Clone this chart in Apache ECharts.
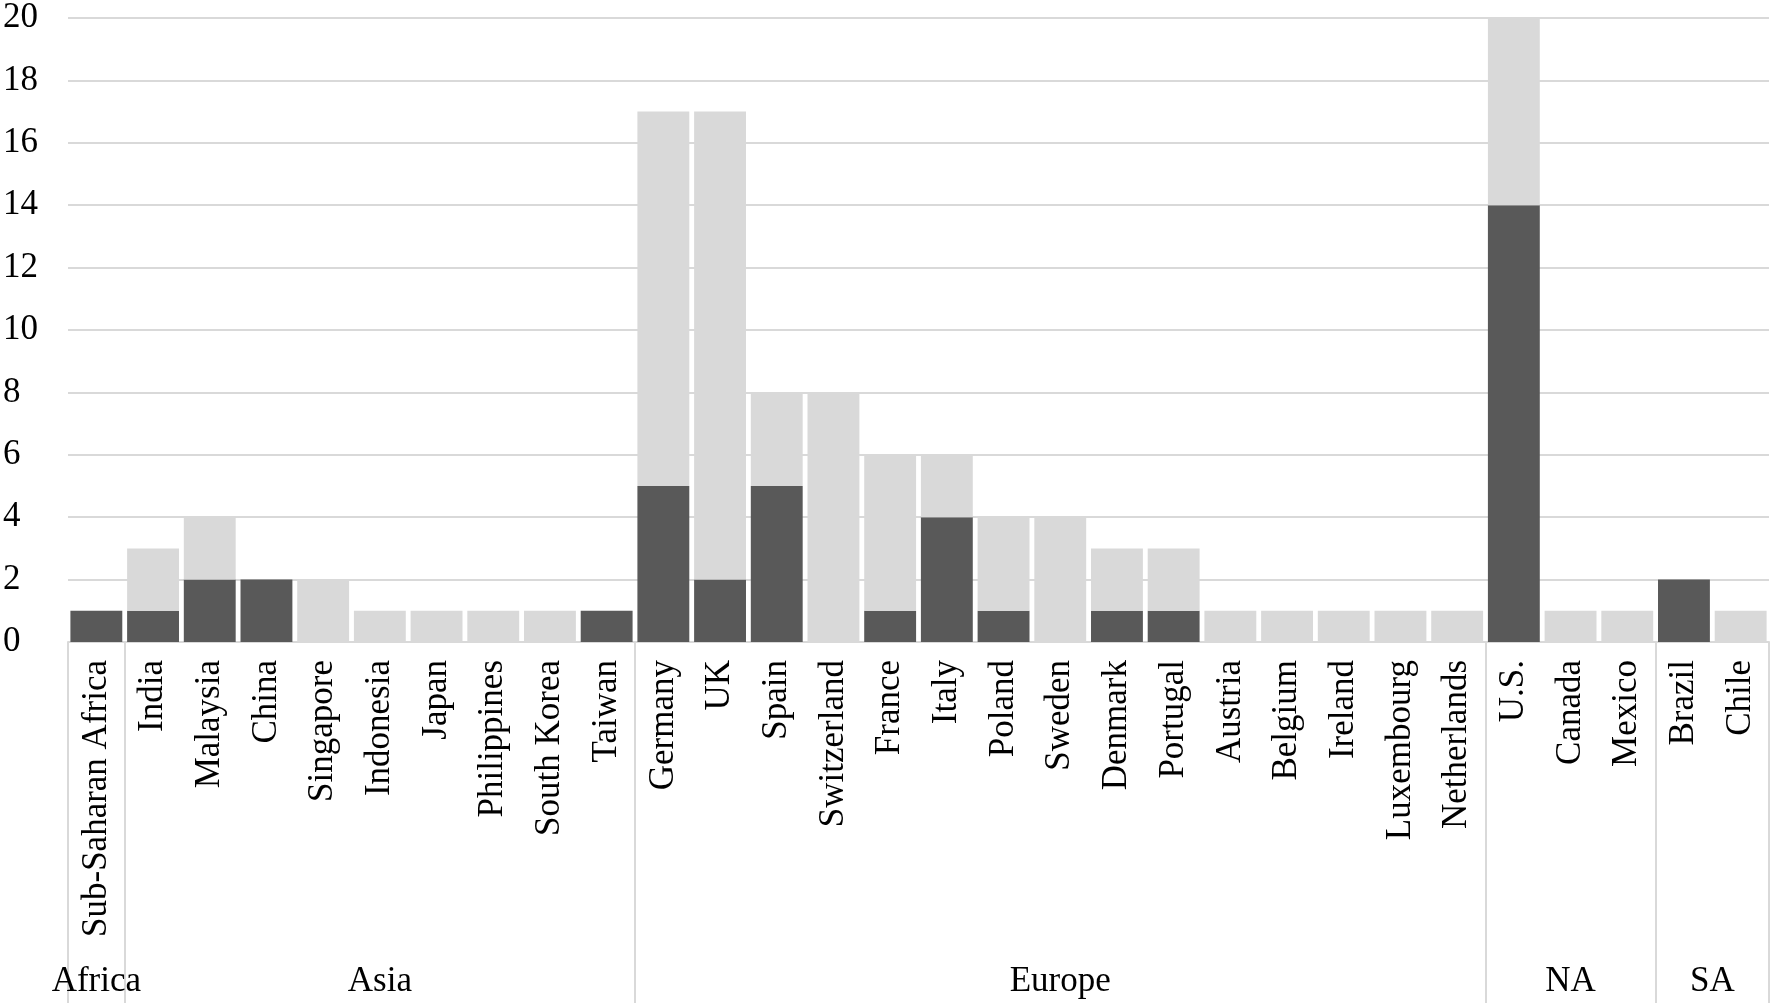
<!DOCTYPE html>
<html>
<head>
<meta charset="utf-8">
<script src="https://cdn.jsdelivr.net/npm/echarts@6/dist/echarts.min.js"></script>
<style>
html,body{margin:0;padding:0;background:#fff;}
#c{width:1773px;height:1003px;}
</style>
</head>
<body>
<div id="c"></div>
<script>
const categories = ['Sub-Saharan Africa','India','Malaysia','China','Singapore','Indonesia','Japan','Philippines','South Korea','Taiwan','Germany','UK','Spain','Switzerland','France','Italy','Poland','Sweden','Denmark','Portugal','Austria','Belgium','Ireland','Luxembourg','Netherlands','U.S.','Canada','Mexico','Brazil','Chile'];
const darkValues  = [1,1,2,2,0,0,0,0,0,1,5,2,5,0,1,4,1,0,1,1,0,0,0,0,0,14,0,0,2,0];
const lightValues = [0,2,2,0,2,1,1,1,1,0,12,15,3,8,5,2,3,4,2,2,1,1,1,1,1,6,1,1,0,1];
const groupNames  = ['Africa','Asia','Europe','NA','SA'];
const groupCounts = [1,9,15,3,2];
const yTicks = [0,2,4,6,8,10,12,14,16,18,20];

// derive group boundaries and centres from counts
const boundaries = [0];
const centres = [];
groupCounts.forEach(function(n){
  const start = boundaries[boundaries.length-1];
  centres.push(start + n/2);
  boundaries.push(start + n);
});

const FONT = 'Liberation Serif, Times New Roman, serif';
const GRID = '#d9d9d9';

const chart = echarts.init(document.getElementById('c'), null, {renderer:'canvas'});
chart.setOption({
  animation:false,
  backgroundColor:'#fff',
  grid:{left:65, right:4, top:18, bottom:361, containLabel:false},
  xAxis:[
    {
      type:'category',
      data:categories,
      position:'bottom',
      axisLine:{show:true, lineStyle:{color:GRID, width:2}},
      axisTick:{show:false},
      axisLabel:{interval:0, rotate:90, margin:18, color:'#000', fontFamily:FONT, fontSize:35}
    },
    {
      type:'value',
      min:0, max:categories.length,
      position:'bottom',
      axisLine:{show:false},
      splitLine:{show:false},
      axisTick:{show:true, customValues:boundaries, length:361, inside:false, lineStyle:{color:GRID, width:2}},
      axisLabel:{
        show:true,
        customValues:centres,
        margin:322,
        color:'#000', fontFamily:FONT, fontSize:35,
        formatter:function(v){
          for (let i=0;i<centres.length;i++){ if (Math.abs(centres[i]-v)<1e-6) return groupNames[i]; }
          return '';
        }
      }
    }
  ],
  yAxis:{
    type:'value', min:yTicks[0], max:yTicks[yTicks.length-1], interval:2,
    axisLine:{show:false}, axisTick:{show:false},
    splitLine:{show:true, lineStyle:{color:GRID, width:2}},
    axisLabel:{align:'left', margin:65, color:'#000', fontFamily:FONT, fontSize:35}
  },
  series:[
    {type:'bar', name:'dark', stack:'s', data:darkValues, xAxisIndex:0,
     barCategoryGap:'8.5%', itemStyle:{color:'#595959'}},
    {type:'bar', name:'light', stack:'s', data:lightValues, xAxisIndex:0,
     barCategoryGap:'8.5%', itemStyle:{color:'#d9d9d9'}}
  ]
});
</script>
</body>
</html>
